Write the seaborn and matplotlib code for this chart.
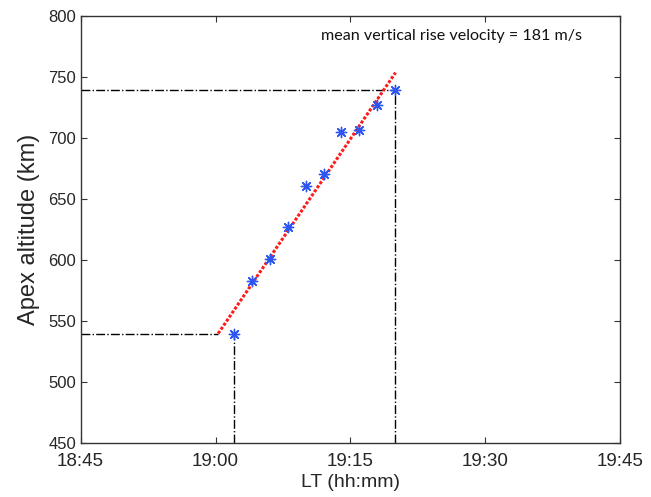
import numpy as np
import pandas as pd
import matplotlib
matplotlib.use("Agg")
import matplotlib.pyplot as plt
import seaborn as sns

# ---- data ----
times = ["19:02", "19:04", "19:06", "19:08", "19:10", "19:12", "19:14", "19:16", "19:18", "19:20"]
altitudes = [540, 583, 601, 627, 661, 671, 705, 707, 727, 740]
tick_labels = ["18:45", "19:00", "19:15", "19:30", "19:45"]
y_ticks = [450, 500, 550, 600, 650, 700, 750, 800]
annotation = "mean vertical rise velocity = 181 m/s"

def to_min(s):
    h, m = s.split(":")
    return int(h) * 60 + int(m)

t0 = to_min(tick_labels[0])
t = np.array([to_min(s) - t0 for s in times], dtype=float)
a = np.array(altitudes, dtype=float)
tick_pos = [to_min(s) - t0 for s in tick_labels]

df = pd.DataFrame({"t": t, "alt": a})

# least squares fit line, drawn from first altitude level to last time
m, b = np.polyfit(t, a, 1)
t_start = (a[0] - b) / m
fit_df = pd.DataFrame({"t": [t_start, t[-1]], "alt": [m * t_start + b, m * t[-1] + b]})

sns.set_theme(style="white")
plt.rcParams["font.family"] = ["Liberation Sans", "DejaVu Sans"]

fig = plt.figure(figsize=(6.51, 4.97), dpi=100)
ax = fig.add_axes([0.1237, 0.108, 0.9531 - 0.1237, 0.967 - 0.108])

xmin, xmax = tick_pos[0], tick_pos[-1]
ymin, ymax = y_ticks[0], y_ticks[-1]

# guide dash-dot lines
guides = [
    pd.DataFrame({"t": [xmin, t_start], "alt": [a[0], a[0]]}),
    pd.DataFrame({"t": [t[0], t[0]], "alt": [ymin, a[0]]}),
    pd.DataFrame({"t": [xmin, t[-1]], "alt": [a[-1], a[-1]]}),
    pd.DataFrame({"t": [t[-1], t[-1]], "alt": [ymin, a[-1]]}),
]
for g in guides:
    sns.lineplot(data=g, x="t", y="alt", ax=ax, color="black", linestyle="-.",
                 linewidth=1.0, sort=False, estimator=None)

sns.lineplot(data=fit_df, x="t", y="alt", ax=ax, color="#ff1a1a", linestyle=(0, (1, 0.6)),
             linewidth=2.2, sort=False, estimator=None, zorder=3)

sns.scatterplot(data=df, x="t", y="alt", ax=ax, marker=(8, 2, 0), s=55,
                color="#2d55f0", edgecolor="#2d55f0", linewidth=1.0, zorder=4)

ax.set_xlim(xmin, xmax)
ax.set_ylim(ymin, ymax)
ax.set_xticks(tick_pos)
ax.set_xticklabels(tick_labels, fontsize=13.5)
ax.set_yticks(y_ticks)
ax.set_yticklabels([str(v) for v in y_ticks], fontsize=12)
ax.tick_params(direction="in", length=4, width=0.8, color="#333333",
               top=True, right=True, bottom=True, left=True, pad=3)
ax.tick_params(axis="x", pad=7)
for sp in ax.spines.values():
    sp.set_color("#333333")
    sp.set_linewidth(1.0)
    sp.set_visible(True)

ax.set_xlabel("LT (hh:mm)", fontsize=14, labelpad=3)
ax.set_ylabel("Apex altitude (km)", fontsize=17, labelpad=6)

ax.text(0.445, 0.955, annotation, transform=ax.transAxes, fontsize=11.6,
        family=["Lato", "DejaVu Sans"], ha="left", va="center", color="#111111")

fig.savefig("out.png", dpi=100)
